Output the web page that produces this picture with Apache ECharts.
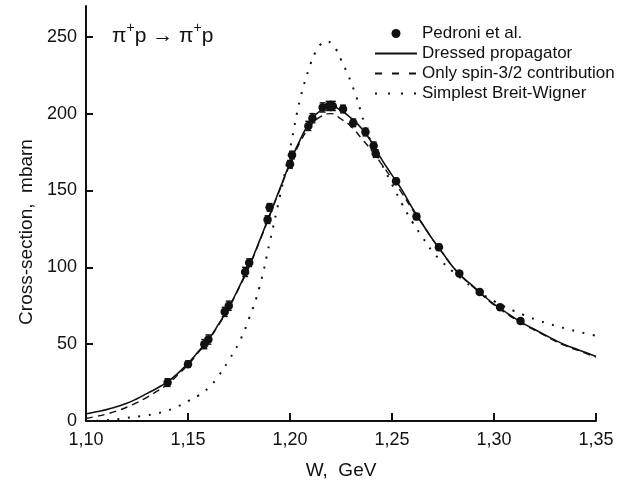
<!DOCTYPE html>
<html>
<head>
<meta charset="utf-8">
<script src="https://cdn.jsdelivr.net/npm/echarts@6/dist/echarts.min.js"></script>
<style>
  html, body { margin: 0; padding: 0; background: #fff; }
  #chart { width: 618px; height: 490px; }
</style>
</head>
<body>
<div id="chart"></div>
<script>
// ---- tick labels ----
const xTicks = [1.10, 1.15, 1.20, 1.25, 1.30, 1.35];
const yTicks = [0, 50, 100, 150, 200, 250];

// ---- Pedroni et al. data ----
const pedroniW   = [1.140, 1.150, 1.158, 1.160, 1.168, 1.170, 1.178, 1.180, 1.189, 1.190, 1.200, 1.201, 1.209, 1.211, 1.216, 1.219, 1.221, 1.226, 1.231, 1.237, 1.241, 1.242, 1.252, 1.262, 1.273, 1.283, 1.293, 1.303, 1.313];
const pedroniSig = [25, 37, 50, 53, 71, 75, 97, 103, 131, 139, 167, 173, 192, 197, 204, 205, 205, 203, 194, 188, 179, 174, 156, 133, 113, 96, 84, 74, 65];
const pedroniErr = [2.5, 2, 3, 3, 3, 3, 3, 2.5, 2.5, 2.5, 2.5, 2.5, 3, 3, 3, 3, 3, 2.5, 2.5, 2.5, 2.5, 2.5, 2, 2, 2, 1.5, 1.5, 1.5, 1.5];

// ---- Dressed propagator (solid) ----
const dressedW   = [1.100, 1.105, 1.110, 1.115, 1.120, 1.125, 1.130, 1.135, 1.140, 1.145, 1.150, 1.155, 1.160, 1.165, 1.170, 1.175, 1.180, 1.185, 1.190, 1.195, 1.200, 1.205, 1.210, 1.215, 1.220, 1.225, 1.230, 1.235, 1.240, 1.245, 1.250, 1.255, 1.260, 1.265, 1.270, 1.275, 1.280, 1.285, 1.290, 1.295, 1.300, 1.305, 1.310, 1.315, 1.320, 1.325, 1.330, 1.335, 1.340, 1.345, 1.350];
const dressedSig = [4.6, 6, 7.4, 9.3, 11.5, 14.5, 18, 21.5, 25.5, 31, 37.5, 45, 53, 63, 74, 87, 101, 117, 134, 151, 168, 183, 195, 202, 205, 202, 197, 190.5, 181.5, 170, 160, 150, 138.5, 128, 118, 109, 100, 93, 87.5, 81.5, 76, 71.5, 67, 63, 59.5, 56, 52.5, 49.5, 47, 44.5, 42];

// ---- Only spin-3/2 contribution (dashed) ----
const spinW   = [1.100, 1.105, 1.110, 1.115, 1.120, 1.125, 1.130, 1.135, 1.140, 1.145, 1.150, 1.155, 1.160, 1.165, 1.170, 1.175, 1.180, 1.185, 1.190, 1.195, 1.200, 1.205, 1.210, 1.215, 1.220, 1.225, 1.230, 1.235, 1.240, 1.245, 1.250, 1.255, 1.260, 1.265, 1.270, 1.275, 1.280, 1.285, 1.290, 1.295, 1.300, 1.305, 1.310, 1.315, 1.320, 1.325, 1.330, 1.335, 1.340, 1.345, 1.350];
const spinSig = [1.8, 3, 4.5, 6.5, 9, 12, 15.5, 19.5, 24, 30, 36.5, 44.5, 52.5, 62.5, 73.5, 86.5, 100.5, 116.5, 133.5, 150.5, 167, 181.5, 192, 198, 200, 196.5, 191.5, 184, 176, 167, 157.5, 148, 137.5, 128, 118, 109, 100, 93, 87, 81, 75.5, 71, 66.5, 62.5, 59, 55.5, 52, 49, 46.5, 44, 41.5];

// ---- Simplest Breit-Wigner (dotted) ----
const bwW   = [1.100, 1.110, 1.120, 1.130, 1.135, 1.140, 1.145, 1.150, 1.155, 1.160, 1.165, 1.170, 1.175, 1.180, 1.185, 1.190, 1.195, 1.200, 1.205, 1.210, 1.2125, 1.215, 1.2175, 1.220, 1.2225, 1.225, 1.2275, 1.230, 1.2325, 1.235, 1.2375, 1.240, 1.245, 1.250, 1.255, 1.260, 1.265, 1.270, 1.275, 1.280, 1.285, 1.290, 1.295, 1.300, 1.305, 1.310, 1.315, 1.320, 1.325, 1.330, 1.335, 1.340, 1.345, 1.350];
const bwSig = [0, 0.5, 2, 3.8, 5, 6.8, 9.5, 13, 16.5, 21.5, 29.5, 39.5, 51, 67, 87, 116, 146, 177, 209.5, 232, 240, 245, 247, 246, 242, 235, 228, 220, 211, 200, 189, 181, 167, 154, 141, 129.5, 119.5, 110, 103, 97, 91.5, 86.5, 82, 78, 74.5, 71.5, 68.8, 66.2, 64, 62, 60.2, 58.5, 57, 55.5];

const FONT = 'Liberation Sans, Arial, Helvetica, sans-serif';
const INK = '#111';

const zip = (a, b) => a.map((v, i) => [v, b[i]]);
const errData = pedroniW.map((w, i) => [w, pedroniSig[i] - pedroniErr[i], pedroniSig[i] + pedroniErr[i]]);

const chart = echarts.init(document.getElementById('chart'), null, { renderer: 'canvas' });
chart.setOption({
  animation: false,
  backgroundColor: '#fff',
  title: {
    text: 'π{s|+}p → π{s|+}p',
    left: 112,
    top: 21,
    padding: 0,
    textStyle: {
      fontFamily: FONT, fontSize: 21, fontWeight: 'normal', color: INK, lineHeight: 30,
      rich: {
        s: { fontFamily: FONT, fontSize: 14, color: INK, verticalAlign: 'top', lineHeight: 14, padding: [0, 0, 14, 0] }
      }
    }
  },
  grid: { left: 86, right: 22, top: 6, bottom: 69, containLabel: false },
  legend: {
    orient: 'vertical',
    left: 374,
    top: 25,
    padding: 0,
    align: 'left',
    itemWidth: 42,
    itemHeight: 9,
    itemGap: 3,
    textStyle: { fontFamily: FONT, fontSize: 17, color: INK, lineHeight: 17 },
    data: [
      { name: 'Pedroni et al.', icon: 'circle' },
      { name: 'Dressed propagator', itemStyle: { opacity: 0 } },
      { name: 'Only spin-3/2 contribution', itemStyle: { opacity: 0 }, lineStyle: { type: [7, 10] } },
      { name: 'Simplest Breit-Wigner', itemStyle: { opacity: 0 }, lineStyle: { type: [2, 11] } }
    ]
  },
  xAxis: {
    type: 'value',
    min: 1.10, max: 1.35, interval: 0.05,
    name: 'W,  GeV',
    nameLocation: 'middle',
    nameGap: 40,
    nameTextStyle: { fontFamily: FONT, fontSize: 19, color: INK },
    axisLine: { lineStyle: { color: INK, width: 2 } },
    axisTick: { inside: true, length: 8, lineStyle: { color: INK, width: 2 }, customValues: xTicks },
    axisLabel: {
      fontFamily: FONT, fontSize: 18, color: INK, margin: 10,
      customValues: xTicks,
      formatter: v => v.toFixed(2).replace('.', ',')
    },
    splitLine: { show: false }
  },
  yAxis: {
    type: 'value',
    min: 0, max: 270, interval: 50,
    name: 'Cross-section,  mbarn',
    nameLocation: 'middle',
    nameRotate: 90,
    nameGap: 49,
    nameTextStyle: { fontFamily: FONT, fontSize: 19, color: INK, padding: [0, 37, 0, 0] },
    axisLine: { lineStyle: { color: INK, width: 2 } },
    axisTick: { inside: true, length: 7, lineStyle: { color: INK, width: 2 }, customValues: yTicks },
    axisLabel: { fontFamily: FONT, fontSize: 18, color: INK, margin: 9, customValues: yTicks },
    splitLine: { show: false }
  },
  series: [
    {
      name: 'Dressed propagator',
      type: 'line',
      data: zip(dressedW, dressedSig),
      smooth: true,
      symbol: 'none',
      lineStyle: { color: INK, width: 1.6, type: 'solid' },
      itemStyle: { color: INK },
      z: 3
    },
    {
      name: 'Only spin-3/2 contribution',
      type: 'line',
      data: zip(spinW, spinSig),
      smooth: true,
      symbol: 'none',
      lineStyle: { color: INK, width: 1.4, type: [7, 5] },
      itemStyle: { color: INK },
      z: 3
    },
    {
      name: 'Simplest Breit-Wigner',
      type: 'line',
      data: zip(bwW, bwSig),
      smooth: true,
      symbol: 'none',
      lineStyle: { color: INK, width: 2, type: [2, 8.5] },
      itemStyle: { color: INK },
      z: 3
    },
    {
      name: 'errors',
      type: 'custom',
      data: errData,
      z: 4,
      renderItem: function (params, api) {
        const x = api.value(0);
        const lo = api.coord([x, api.value(1)]);
        const hi = api.coord([x, api.value(2)]);
        const cw = 3;
        const st = { stroke: INK, lineWidth: 1.4 };
        return {
          type: 'group',
          children: [
            { type: 'line', shape: { x1: lo[0], y1: lo[1], x2: hi[0], y2: hi[1] }, style: st },
            { type: 'line', shape: { x1: lo[0] - cw, y1: lo[1], x2: lo[0] + cw, y2: lo[1] }, style: st },
            { type: 'line', shape: { x1: hi[0] - cw, y1: hi[1], x2: hi[0] + cw, y2: hi[1] }, style: st }
          ]
        };
      }
    },
    {
      name: 'Pedroni et al.',
      type: 'scatter',
      data: zip(pedroniW, pedroniSig),
      symbol: 'circle',
      symbolSize: 8.5,
      itemStyle: { color: INK, opacity: 1 },
      z: 5
    }
  ]
});
</script>
</body>
</html>
